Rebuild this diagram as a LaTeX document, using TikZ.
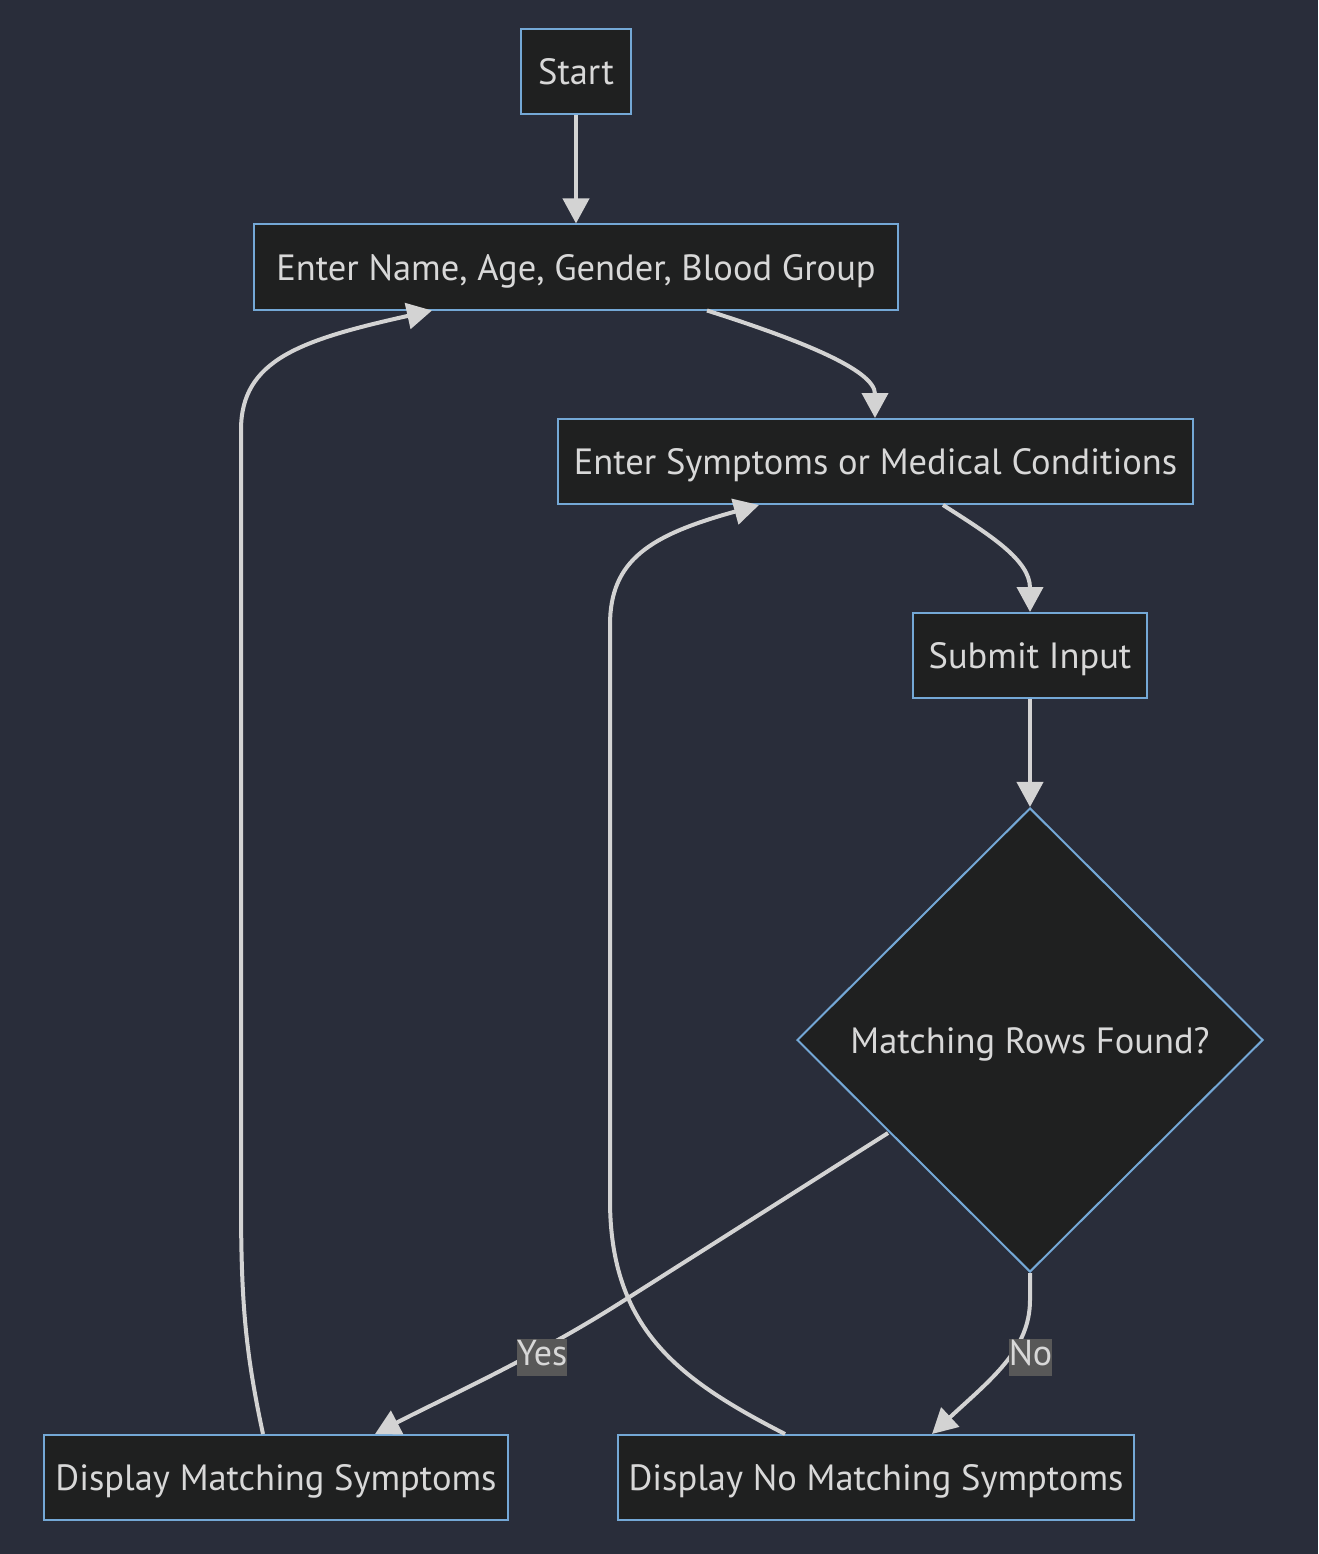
\documentclass[tikz,border=0pt]{standalone}
\usepackage{fontspec}
\setmainfont{PT Sans}
\usetikzlibrary{arrows.meta,shapes.geometric}
\definecolor{bgc}{HTML}{292D3A}
\definecolor{nodefill}{HTML}{1F2020}
\definecolor{nodeborder}{HTML}{74A8D6}
\definecolor{txt}{HTML}{D8D8D8}
\definecolor{edgec}{HTML}{D3D3D3}
\definecolor{lblbg}{HTML}{585858}
\tikzset{
  box/.style={draw=nodeborder, fill=nodefill, line width=2pt, text=txt, inner sep=0pt,
    minimum height=85pt, text height=30pt, text depth=4pt, font=\fontsize{36.5}{42}\selectfont},
  dia/.style={draw=nodeborder, fill=nodefill, line width=2pt, text=txt, inner sep=0pt,
    shape=diamond, minimum width=466pt, minimum height=464pt, text height=30pt, text depth=4pt,
    font=\fontsize{36.5}{42}\selectfont},
  conn/.style={draw=edgec, line width=4pt, -{Triangle[length=25pt,width=26pt]}},
  lbl/.style={fill=lblbg, text=txt, inner xsep=0pt, inner ysep=0pt, text height=27pt, text depth=10pt,
    font=\fontsize{36}{42}\selectfont}
}
\begin{document}
\begin{tikzpicture}[x=1pt,y=-1pt]
\fill[bgc] (0,0) rectangle (1318,1554);
\useasboundingbox (0,0) rectangle (1318,1554);

\node[box, minimum width=110pt] (start) at (576,71.5) {Start};
\node[box, minimum width=644pt] (name) at (576,267) {Enter Name, Age, Gender, Blood Group};
\node[box, minimum width=635pt] (symp) at (875.5,461.5) {Enter Symptoms or Medical Conditions};
\node[box, minimum width=234pt] (submit) at (1030,655.5) {Submit Input};
\node[dia] (dec) at (1030,1040) {Matching Rows Found?};
\node[box, minimum width=464pt] (match) at (276,1477.5) {Display Matching Symptoms};
\node[box, minimum width=516pt] (nomatch) at (876,1477.5) {Display No Matching Symptoms};

\draw[conn] (start) -- (name);
\draw[conn] (name.south -| 707,0) .. controls (800,340) and (875,370) .. (symp.north -| 875,0);
\draw[conn] (symp.south -| 943,0) .. controls (990,535) and (1030,560) .. (submit.north);
\draw[conn] (submit) -- (dec);

\coordinate (yesstart) at (888,1133);
\coordinate (y1) at (620,1303);
\draw[conn] (yesstart) -- (y1) .. controls (530,1360) and (440,1400) .. (match.north -| 375,0);
\node[lbl] (yes) at (542,1357) {Yes};

\coordinate (n1) at (1030,1300);
\draw[conn] (dec.south) -- (n1) .. controls (1030,1350) and (990,1380) .. (nomatch.north -| 932,0);
\node[lbl] (no) at (1030.5,1357) {No};

\coordinate (l1) at (241,1200);
\coordinate (l2) at (241,430);
\draw[conn] (match.north -| 263,0) .. controls (245,1350) and (241,1300) .. (l1) -- (l2)
  .. controls (241,360) and (300,340) .. (name.south -| 432,0);

\coordinate (m1) at (610,1200);
\coordinate (m2) at (610,625);
\draw[conn] (nomatch.north -| 785,0) .. controls (680,1380) and (610,1330) .. (m1) -- (m2)
  .. controls (610,560) and (650,535) .. (symp.south -| 759,0);
\end{tikzpicture}
\end{document}
